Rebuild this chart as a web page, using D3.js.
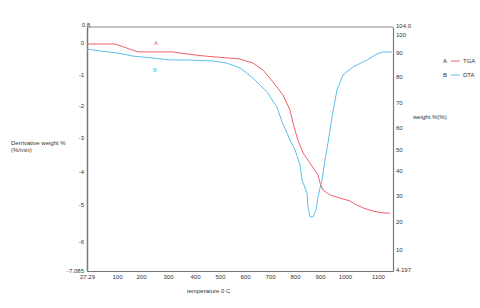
<!DOCTYPE html>
<html>
<head>
<meta charset="utf-8">
<script src="https://cdn.jsdelivr.net/npm/d3@7"></script>
<style>
  body { margin: 0; background: #fff; }
  svg text { font-family: "Liberation Sans", Arial, sans-serif; fill: #333; }
  .axis text { font-size: 6px; }
  .axis path { stroke: #777; }
</style>
</head>
<body>
<div id="chart"></div>
<script>
var width = 480,
    height = 308;

// tick labels as printed on the chart (axes are not evenly spaced)
var xTicks = [27.29, 100, 200, 300, 400, 500, 600, 700, 800, 900, 1000, 1100, 1145],
    xTickPx = [87, 117, 141, 168, 195, 220, 245, 270, 295, 320, 345, 378, 393],
    leftTicks = [0.8, 0, -1, -2, -3, -4, -5, -6, -7.085],
    leftTickPx = [27, 43, 75, 106, 138, 172, 205, 242, 271],
    rightTicks = [104.0, 100, 90, 80, 70, 60, 50, 40, 30, 20, 10, 4.197],
    rightTickPx = [27, 35, 53, 77, 103, 128, 150, 171, 196, 222, 250, 271];

// TGA (weight %, right axis)
var tgaTemp = [27.29, 95, 188, 319, 356, 432, 580, 632, 672, 712, 752, 780, 792, 808, 812, 832, 860, 892, 900, 912, 940, 980, 1015, 1030, 1055, 1085, 1115, 1136],
    tgaWeight = [95.0, 95.0, 90.6, 90.6, 89.8, 88.8, 87.5, 85.8, 82.9, 78.1, 73.1, 67.2, 62.0, 55.9, 54.5, 48.6, 43.8, 38.4, 35.2, 32.4, 30.4, 29.2, 28.1, 26.9, 25.4, 24.2, 23.5, 23.4];

// DTA (derivative weight %/min, left axis)
var dtaTemp = [27.29, 59, 100, 167, 244, 307, 370, 472, 528, 580, 632, 688, 728, 748, 768, 780, 800, 820, 828, 848, 852, 860, 872, 884, 892, 908, 920, 932, 948, 968, 992, 1024, 1067, 1097, 1115, 1142],
    dtaDeriv = [-0.19, -0.25, -0.31, -0.41, -0.47, -0.53, -0.53, -0.56, -0.63, -0.78, -1.10, -1.55, -2.03, -2.5, -2.84, -3.06, -3.35, -3.79, -4.24, -4.64, -5.05, -5.32, -5.32, -5.14, -4.76, -4.24, -3.65, -3.15, -2.35, -1.48, -1.0, -0.75, -0.53, -0.34, -0.28, -0.28];

var x = d3.scaleLinear().domain(xTicks).range(xTickPx),
    yLeft = d3.scaleLinear().domain(leftTicks).range(leftTickPx),
    yRight = d3.scaleLinear().domain(rightTicks).range(rightTickPx);

var svg = d3.select("#chart").append("svg")
    .attr("width", width)
    .attr("height", height);

var x0 = x(27.29), x1 = x(1145), yTop = yLeft(0.8), yBot = yLeft(-7.085);

// frame
svg.append("line").attr("x1", x0).attr("x2", x1).attr("y1", yTop).attr("y2", yTop)
    .attr("stroke", "#888").attr("stroke-width", 1);

// bottom axis
var xAxis = svg.append("g").attr("class", "axis")
    .attr("transform", "translate(0," + yBot + ")")
    .call(d3.axisBottom(x).tickValues(xTicks.slice(0, -1)).tickSize(0).tickPadding(4)
        .tickFormat(function(d) { return d; }));
xAxis.select(".domain").attr("stroke", "#777").attr("stroke-width", 1.2);

// left axis
var lAxis = svg.append("g").attr("class", "axis")
    .attr("transform", "translate(" + x0 + ",0)")
    .call(d3.axisLeft(yLeft).tickValues(leftTicks).tickSize(0).tickPadding(3)
        .tickFormat(function(d) { return d; }));
lAxis.select(".domain").attr("stroke", "#666").attr("stroke-width", 1.5);
lAxis.selectAll(".tick").filter(function(d) { return d === 0.8; })
    .select("text").attr("x", 3).attr("dy", "-0.1em");

// right axis
var rAxis = svg.append("g").attr("class", "axis")
    .attr("transform", "translate(" + x1 + ",0)")
    .call(d3.axisRight(yRight).tickValues(rightTicks).tickSize(0).tickPadding(3)
        .tickFormat(function(d) { return d === 104 ? "104.0" : d; }));
rAxis.select(".domain").attr("stroke", "#888").attr("stroke-width", 1.2);
rAxis.selectAll(".tick").filter(function(d) { return d === 104 || d === 4.197; })
    .select("text").attr("dy", "0.1em");

// lines
var tgaLine = d3.line()
    .x(function(d, i) { return x(tgaTemp[i]); })
    .y(function(d) { return yRight(d); });
var dtaLine = d3.line()
    .x(function(d, i) { return x(dtaTemp[i]); })
    .y(function(d) { return yLeft(d); });

svg.append("path").datum(dtaDeriv)
    .attr("d", dtaLine)
    .attr("fill", "none").attr("stroke", "#5bbfe8").attr("stroke-width", 1);
svg.append("path").datum(tgaWeight)
    .attr("d", tgaLine)
    .attr("fill", "none").attr("stroke", "#f0606a").attr("stroke-width", 1);

// curve labels
svg.append("text").attr("x", 156).attr("y", 45).attr("text-anchor", "middle")
    .style("font-size", "6px").style("fill", "#f0606a").text("A");
svg.append("text").attr("x", 155).attr("y", 72).attr("text-anchor", "middle")
    .style("font-size", "6px").style("fill", "#5bbfe8").text("B");

// legend
var legend = svg.append("g").attr("transform", "translate(443,61)");
[["A", "TGA", "#f0606a"], ["B", "DTA", "#5bbfe8"]].forEach(function(l, i) {
    var g = legend.append("g").attr("transform", "translate(0," + (i * 14) + ")");
    g.append("text").attr("x", 0).attr("y", 2).style("font-size", "6px").text(l[0]);
    g.append("line").attr("x1", 8).attr("x2", 17).attr("y1", 0).attr("y2", 0)
        .attr("stroke", l[2]).attr("stroke-width", 1);
    g.append("text").attr("x", 20).attr("y", 2).style("font-size", "6px").text(l[1]);
});

// axis titles
svg.append("text").attr("x", 11).attr("y", 145).style("font-size", "6px").text("Derrivative weight %");
svg.append("text").attr("x", 11).attr("y", 152).style("font-size", "6px").text("(%/min)");
svg.append("text").attr("x", 413).attr("y", 119).style("font-size", "6px").text("weight %(%)");
svg.append("text").attr("x", 187).attr("y", 293).style("font-size", "6px").text("temperature 0 C");
</script>
</body>
</html>
